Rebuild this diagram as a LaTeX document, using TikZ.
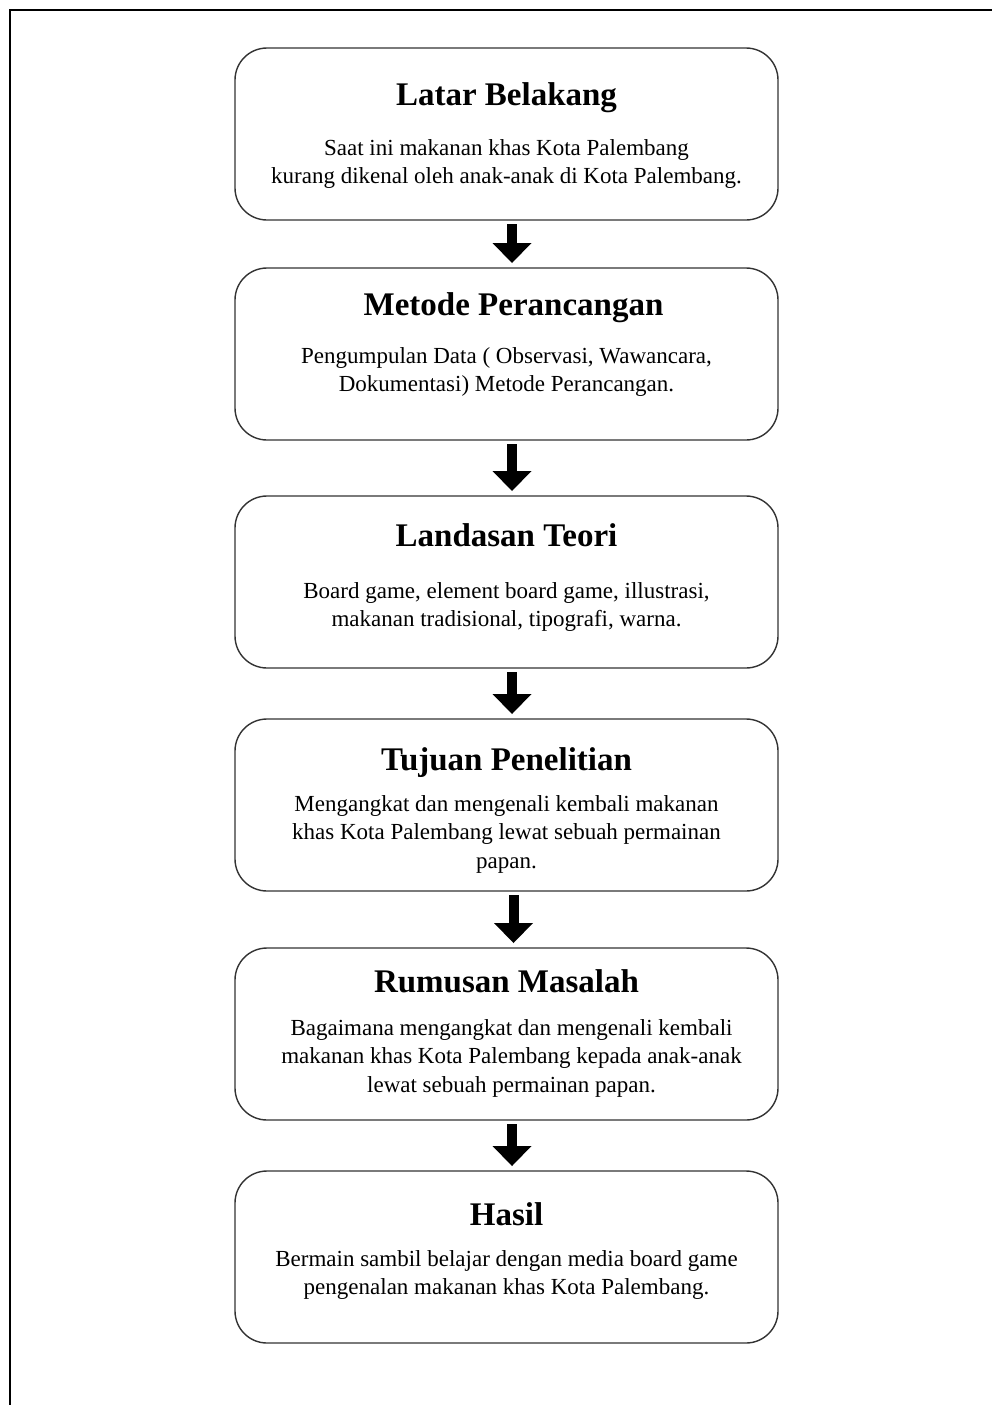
\documentclass[tikz,border=0pt]{standalone}
\usepackage{fontspec}
\setmainfont{Liberation Serif}
\usepackage{tikz}
\usetikzlibrary{arrows.meta, positioning}

\begin{document}
\begin{tikzpicture}[x=1pt, y=1pt,
  stage/.style={rectangle, draw=black!80, line width=1.4pt, rounded corners=32pt,
    minimum width=543pt, minimum height=172pt, outer sep=0pt},
  judul/.style={anchor=base, inner sep=0pt, font=\fontsize{33}{38}\selectfont\bfseries},
  isi/.style={anchor=north, inner sep=0pt, align=center,
    font=\fontsize{23}{28.5}\selectfont},
  panah/.style={line width=10pt, shorten <=4pt, shorten >=5pt,
    -{Triangle[length=20pt 0 0, width=39pt 0 0, line width=0pt 0]}},
  bingkai/.style={line width=2.5pt}
]
\useasboundingbox (0,0) rectangle (992,-1405);

% Frame
\draw[bingkai] (992,-10) -- (10,-10) -- (10,-1405);

% Boxes
\node[stage] (latar) at (506.5,-134) {};
\node[stage, below=48pt of latar] (metode) {};
\node[stage, below=56pt of metode] (teori) {};
\node[stage, below=51pt of teori] (tujuan) {};
\node[stage, below=57pt of tujuan] (rumusan) {};
\node[stage, below=51pt of rumusan] (hasil) {};

% Titles
\node[judul] (latarJudul) at ([yshift=-57pt]latar.north) {Latar Belakang};
\node[judul] (metodeJudul) at ([xshift=7pt, yshift=-47pt]metode.north) {Metode Perancangan};
\node[judul] (teoriJudul) at ([yshift=-50pt]teori.north) {Landasan Teori};
\node[judul] (tujuanJudul) at ([yshift=-51pt]tujuan.north) {Tujuan Penelitian};
\node[judul] (rumusanJudul) at ([yshift=-44pt]rumusan.north) {Rumusan Masalah};
\node[judul] (hasilJudul) at ([yshift=-54pt]hasil.north) {Hasil};

% Texts
\node[isi] (latarIsi) at ([yshift=-91pt]latar.north) {Saat ini makanan khas Kota Palembang\\kurang dikenal oleh anak-anak di Kota Palembang.};
\node[isi] (metodeIsi) at ([yshift=-79pt]metode.north) {Pengumpulan Data ( Observasi, Wawancara,\\Dokumentasi) Metode Perancangan.};
\node[isi] (teoriIsi) at ([yshift=-86pt]teori.north) {Board game, element board game, illustrasi,\\makanan tradisional, tipografi, warna.};
\node[isi] (tujuanIsi) at ([yshift=-76pt]tujuan.north) {Mengangkat dan mengenali kembali makanan\\khas Kota Palembang lewat sebuah permainan\\papan.};
\node[isi] (rumusanIsi) at ([xshift=5pt, yshift=-71pt]rumusan.north) {Bagaimana mengangkat dan mengenali kembali\\makanan khas Kota Palembang kepada anak-anak\\lewat sebuah permainan papan.};
\node[isi] (hasilIsi) at ([yshift=-79pt]hasil.north) {Bermain sambil belajar dengan media board game\\pengenalan makanan khas Kota Palembang.};

% Arrows
\draw[panah] ([xshift=5.5pt]latar.south) -- ([xshift=5.5pt]metode.north);
\draw[panah] ([xshift=5.5pt]metode.south) -- ([xshift=5.5pt]teori.north);
\draw[panah] ([xshift=5.5pt]teori.south) -- ([xshift=5.5pt]tujuan.north);
\draw[panah] ([xshift=7pt]tujuan.south) -- ([xshift=7pt]rumusan.north);
\draw[panah] ([xshift=5.5pt]rumusan.south) -- ([xshift=5.5pt]hasil.north);

\end{tikzpicture}
\end{document}
